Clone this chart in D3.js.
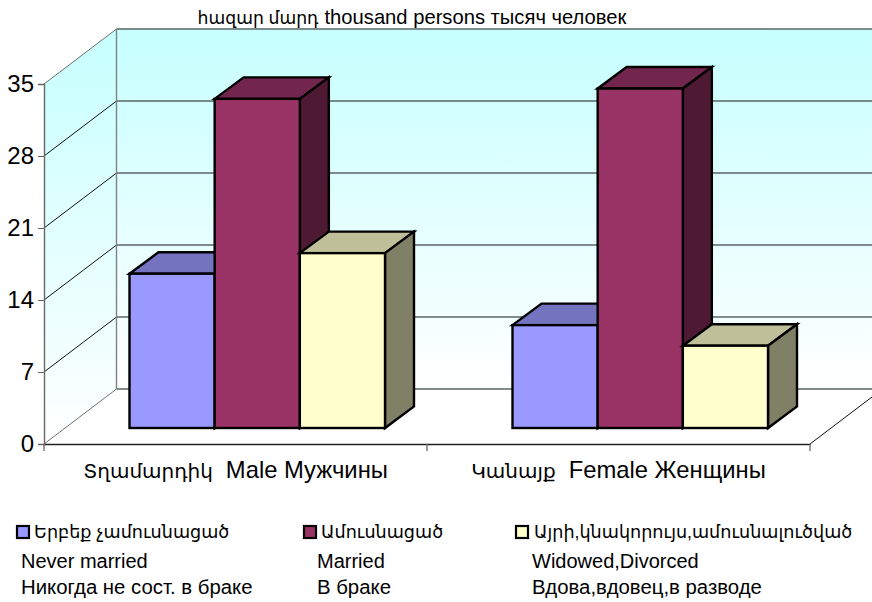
<!DOCTYPE html>
<html><head><meta charset="utf-8">
<script src="https://cdn.jsdelivr.net/npm/d3@7"></script>
<style>html,body{margin:0;padding:0;background:#fff}svg{display:block}text{font-family:"Liberation Sans","DejaVu Sans",sans-serif;fill:#000}</style>
</head><body><svg id="c" width="872" height="602"></svg>
<script>
const categories = ["Տղամարդիկ Male Мужчины", "Կանայք Female Женщины"];
const seriesNames = ["Երբեք չամուսնացած", "Ամուսնացած", "Այրի,կնակորույս,ամուսնալուծված"];
const seriesEn = ["Never married", "Married", "Widowed,Divorced"];
const seriesRu = ["Никогда не сост. в браке", "В браке", "Вдова,вдовец,в разводе"];
const neverMarried = [15, 10];
const married = [32, 33];
const widowedDivorced = [17, 8];
const yTicks = [0, 7, 14, 21, 28, 35];
const titleText = "հազար մարդ thousand persons тысяч человек";
const front = ["#9999FF", "#993366", "#FFFFCC"];
const topFace = ["#7373BF", "#73264D", "#BFBF99"];
const sideFace = ["#4D4D80", "#4D1933", "#808066"];

const svg = d3.select("#c");
const y = d3.scaleLinear().domain([0, 35]).range([444, 84]);
const x = d3.scaleBand().domain(categories).range([44, 810]);
const wallDX = 72.5, wallDY = -55;
const barDX = 29, barDY = -21.5, barBaseOffset = -16;
const groupOffset = 85.5;
const s = d3.scaleBand().domain(d3.range(3)).range([0, 255.5]);
const allSeries = [neverMarried, married, widowedDivorced];

const armenian = /^[\u0530-\u058F,\s]+$/;
// Armenian runs fall back to a wider face, so they get their own size.
function mixedText(sel, str, armSize, restSize, gap) {
  const words = str.split(" ");
  const armWords = words.filter(w => armenian.test(w)).join(" ");
  const restWords = words.filter(w => !armenian.test(w)).join(" ");
  sel.text(null);
  sel.append("tspan").attr("font-size", armSize).text(armWords);
  sel.append("tspan").attr("font-size", restSize).attr("dx", gap).text(restWords);
}

const defs = svg.append("defs");
const g1 = defs.append("linearGradient").attr("id","wall").attr("x1",0).attr("y1",0).attr("x2",0).attr("y2",1);
g1.append("stop").attr("offset",0).attr("stop-color","#C6FFFF");
g1.append("stop").attr("offset",1).attr("stop-color","#FFFFFF");
const g2 = defs.append("linearGradient").attr("id","wallL").attr("x1",0).attr("y1",0).attr("x2",0).attr("y2",1);
g2.append("stop").attr("offset",0).attr("stop-color","#C6FFFF");
g2.append("stop").attr("offset",1).attr("stop-color","#FFFFFF");

const line = d3.line();
const backTop = y(35) + wallDY, backBot = y(0) + wallDY;
const bx = 44 + wallDX, rx = 810 + wallDX;

// walls
svg.append("path").attr("d", line([[44,y(35)],[bx,backTop],[bx,backBot],[44,y(0)]])+"Z").attr("fill","url(#wallL)");
svg.append("rect").attr("x",bx).attr("y",backTop).attr("width",rx-bx).attr("height",backBot-backTop).attr("fill","url(#wall)");

// gridlines
const grid = svg.append("g").attr("fill","none");
yTicks.forEach(v=>{
  const edge = v===0 || v===35;
  grid.append("path").attr("d", line([[44,y(v)],[bx,y(v)+wallDY]]))
    .attr("stroke", edge ? "#707070" : "#111").attr("stroke-width",1);
  grid.append("path").attr("d", line([[bx,y(v)+wallDY],[rx,y(v)+wallDY]]))
    .attr("stroke", "#5a6464").attr("stroke-width",1.6);
});
grid.append("path").attr("d", line([[bx,backTop],[bx,backBot]])).attr("stroke","#808080").attr("stroke-width",1.4);
grid.append("path").attr("d", line([[810,y(0)],[rx,backBot]])).attr("stroke","#111").attr("stroke-width",1);

// bars
const bars = svg.append("g").attr("stroke","#000").attr("stroke-width",2.4).attr("stroke-linejoin","miter");
categories.forEach((c,ci)=>{
  allSeries.forEach((vals,si)=>{
    const x0 = x(c) + groupOffset + s(si), x1 = x0 + s.bandwidth();
    const yb = y(0) + barBaseOffset, yt = yb - (y(0) - y(vals[ci]));
    bars.append("path").attr("fill",topFace[si])
      .attr("d", line([[x0,yt],[x0+barDX,yt+barDY],[x1+barDX,yt+barDY],[x1,yt]])+"Z");
    bars.append("path").attr("fill",sideFace[si])
      .attr("d", line([[x1,yt],[x1+barDX,yt+barDY],[x1+barDX,yb+barDY],[x1,yb]])+"Z");
    bars.append("rect").attr("fill",front[si]).attr("x",x0).attr("y",yt).attr("width",x1-x0).attr("height",yb-yt);
  });
});

// axes
const yAxis = svg.append("g").attr("transform","translate(44,0)")
  .call(d3.axisLeft(y).tickValues(yTicks).tickSize(6).tickPadding(4).tickFormat(d3.format("d")));
yAxis.selectAll("text").attr("font-size",24).style("font-family",'"Liberation Sans",sans-serif');
yAxis.selectAll("line,path").attr("stroke","#666");
yAxis.select(".domain").attr("stroke","#666").attr("stroke-width",1.4);

const xAxis = svg.append("g").attr("transform",`translate(0,${y(0)})`)
  .call(d3.axisBottom(x).tickSize(0).tickPadding(17));
xAxis.selectAll("text").attr("font-size",23.8).style("font-family",'"Liberation Sans","DejaVu Sans",sans-serif')
  .each(function(d){ mixedText(d3.select(this), d, 20, 23.8, 13); });
xAxis.select(".domain").attr("stroke","#222").attr("stroke-width",1.3);
const boundaries = [44, 44 + x.step(), 44 + 2*x.step()];
xAxis.selectAll(".bound").data(boundaries).join("line").attr("class","bound")
  .attr("x1",d=>d).attr("x2",d=>d).attr("y1",0).attr("y2",7).attr("stroke","#666").attr("stroke-width",1.3);

// title
svg.append("text").attr("x",412).attr("y",24).attr("text-anchor","middle")
  .call(t => {
    const words = titleText.split(" ");
    t.append("tspan").attr("font-size",17.2).text(words.slice(0,2).join(" "));
    t.append("tspan").attr("font-size",20.2).attr("dx",6).text(words.slice(2).join(" "));
  });

// legend
const swX = [16, 303, 515], tX = [34, 321, 534], subX = [21, 317, 532];
seriesNames.forEach((n,i)=>{
  svg.append("rect").attr("x",swX[i]+1).attr("y",526).attr("width",12).attr("height",12)
    .attr("fill",front[i]).attr("stroke","#000").attr("stroke-width",2.2);
  svg.append("text").attr("x",tX[i]).attr("y",538).attr("font-size",17.6).text(n);
  svg.append("text").attr("x",subX[i]).attr("y",568).attr("font-size",20).text(seriesEn[i]);
  svg.append("text").attr("x",subX[i]).attr("y",594).attr("font-size",20.35).text(seriesRu[i]);
});
</script></body></html>
